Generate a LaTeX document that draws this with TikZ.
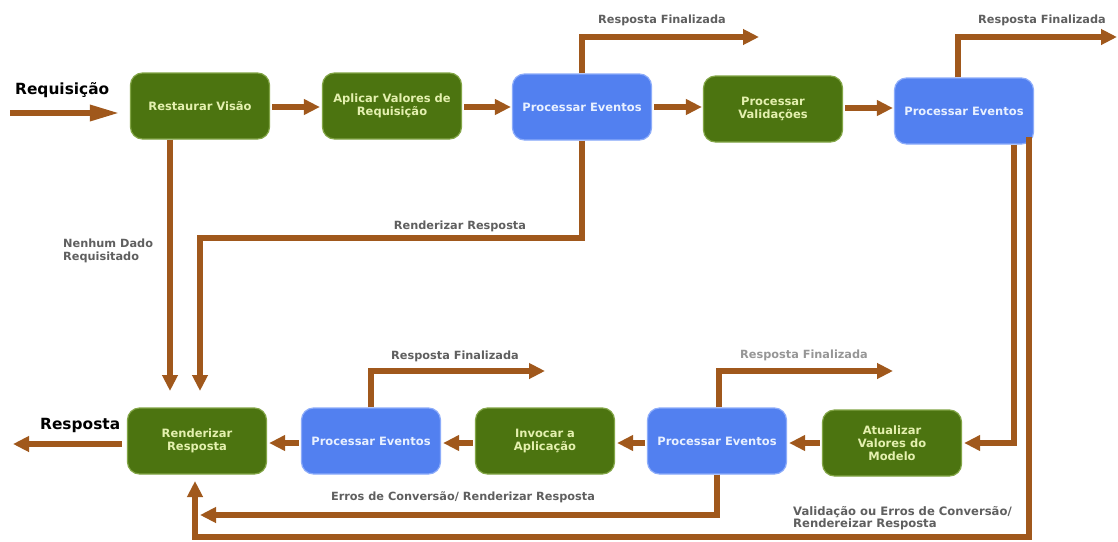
\documentclass[tikz,border=0pt]{standalone}
\usepackage{fontspec}
\setmainfont{DejaVu Sans}
\usetikzlibrary{arrows.meta,calc}
\definecolor{gbox}{RGB}{76,116,16}
\definecolor{gedge}{RGB}{130,165,70}
\definecolor{bbox}{RGB}{82,128,240}
\definecolor{bedge}{RGB}{140,172,250}
\definecolor{brn}{RGB}{160,88,28}
\definecolor{gtxt}{RGB}{228,240,175}
\definecolor{btxt}{RGB}{232,240,255}
\definecolor{lbl}{RGB}{95,95,95}
\definecolor{lbllight}{RGB}{150,150,150}
\begin{document}
\begin{tikzpicture}[x=1pt,y=-1pt,
  phase/.style={rounded corners=12pt, minimum width=139pt, minimum height=66pt,
    align=center, inner sep=0pt, line width=1.2pt,
    font=\bfseries\fontsize{11.5}{13}\selectfont},
  gph/.style={phase, fill=gbox, draw=gedge, text=gtxt},
  bph/.style={phase, fill=bbox, draw=bedge, text=btxt},
  arr/.style={draw=brn, line width=6pt, -{Triangle[length=16pt,width=15pt]}},
  arrin/.style={draw=brn, line width=6pt, -{Triangle[length=30pt,width=15pt]}},
  lab/.style={inner sep=0pt, text=lbl, font=\bfseries\fontsize{11.3}{12.5}\selectfont},
  head/.style={inner sep=0pt, text=black, font=\bfseries\fontsize{15.4}{17}\selectfont}
]
\useasboundingbox (0,0) rectangle (1118,541);
\fill[white] (0,0) rectangle (1118,541);

% phases, top row
\node[gph] (rv)  at (200,106) {Restaurar Visão};
\node[gph] (av)  at (392,106) {Aplicar Valores de\\Requisição};
\node[bph] (pe1) at (582,107) {Processar Eventos};
\node[gph] (pv)  at (773,109) {Processar\\Validações};
\node[bph] (pe2) at (964,111) {Processar Eventos};
% phases, bottom row
\node[gph] (rr)  at (197,441) {Renderizar\\Resposta};
\node[bph] (pe3) at (371,441) {Processar Eventos};
\node[gph] (ia)  at (545,441) {Invocar a\\Aplicação};
\node[bph] (pe4) at (717,441) {Processar Eventos};
\node[gph] (au)  at (892,443) {Atualizar\\Valores do\\Modelo};

% free ends
\coordinate (i0) at (10,113);
\coordinate (o1) at (13,444);
\coordinate (f1) at (759,37);
\coordinate (f2) at (1117,37);
\coordinate (f3) at (545,371);
\coordinate (f4) at (893,371);
\coordinate (d1) at (170,391);
\coordinate (d2) at (200,391);
\coordinate (k1) at (200,238);
\coordinate (v1) at (1014,443);
\coordinate (v2) at (1029,537);
\coordinate (u1) at (195,481);
\coordinate (e1) at (200,515);
\coordinate (ht) at (0,107);
\coordinate (hb) at (0,443);

% main flow
\draw[arrin, shorten >=10pt] (i0) -- (rv.west |- i0);
\draw[arr, shorten <=2pt, shorten >=2pt] (rv.east |- ht) -- (av.west |- ht);
\draw[arr, shorten <=2pt, shorten >=1pt] (av.east |- ht) -- (pe1.west |- ht);
\draw[arr, shorten <=2pt, shorten >=1pt] (pe1.east |- ht) -- (pv.west |- ht);
\draw[arr, shorten <=2pt, shorten >=1pt] ([yshift=-1pt]pv.east |- ht) -- ([yshift=-1pt]pe2.west |- ht);
\draw[arr, shorten <=2pt, shorten >=2pt] (au.west |- hb) -- (pe4.east |- hb);
\draw[arr, shorten <=2pt, shorten >=2pt] (pe4.west |- hb) -- (ia.east |- hb);
\draw[arr, shorten <=2pt, shorten >=2pt] (ia.west |- hb) -- (pe3.east |- hb);
\draw[arr, shorten <=2pt, shorten >=2pt] (pe3.west |- hb) -- (rr.east |- hb);
\draw[arr, shorten <=5pt] (rr.west |- o1) -- (o1);

% response completed
\draw[arr] (pe1.north) |- (f1);
\draw[arr] ([xshift=-6pt]pe2.north) |- (f2);
\draw[arr] (pe3.north) |- (f3);
\draw[arr] ([xshift=2pt]pe4.north) |- (f4);

% render response / no data
\draw[arr] (rv.south -| d1) -- (d1);
\draw[arr] (pe1.south) |- (k1) -- (d2);
\draw[arr] (pe2.south -| v1) -- (v1) -- ([xshift=2pt]au.east);
\draw[arr] ([yshift=8pt]pe2.south -| v2) -- (v2) -| (u1);
\draw[arr] (pe4.south) |- (e1);

% labels
\node[head, anchor=base west] (lreq) at (15,94) {Requisição};
\node[head, anchor=base west] (lres) at (40,429) {Resposta};
\node[lab] (lf1) at (662,20) {Resposta Finalizada};
\node[lab] (lf2) at (1042,20) {Resposta Finalizada};
\node[lab] (lf3) at (455,356) {Resposta Finalizada};
\node[lab, text=lbllight] (lf4) at (804,355) {Resposta Finalizada};
\node[lab] (lrr) at (460,226) {Renderizar Resposta};
\node[lab, anchor=west, align=left] (lnd) at (63,251) {Nenhum Dado\\Requisitado};
\node[lab] (lec) at (463,497) {Erros de Conversão/ Renderizar Resposta};
\node[lab, anchor=west, align=left, font=\bfseries\fontsize{11.6}{11}\selectfont] (lvc) at (793,518) {Validação ou Erros de Conversão/\\Rendereizar Resposta};
\end{tikzpicture}
\end{document}
